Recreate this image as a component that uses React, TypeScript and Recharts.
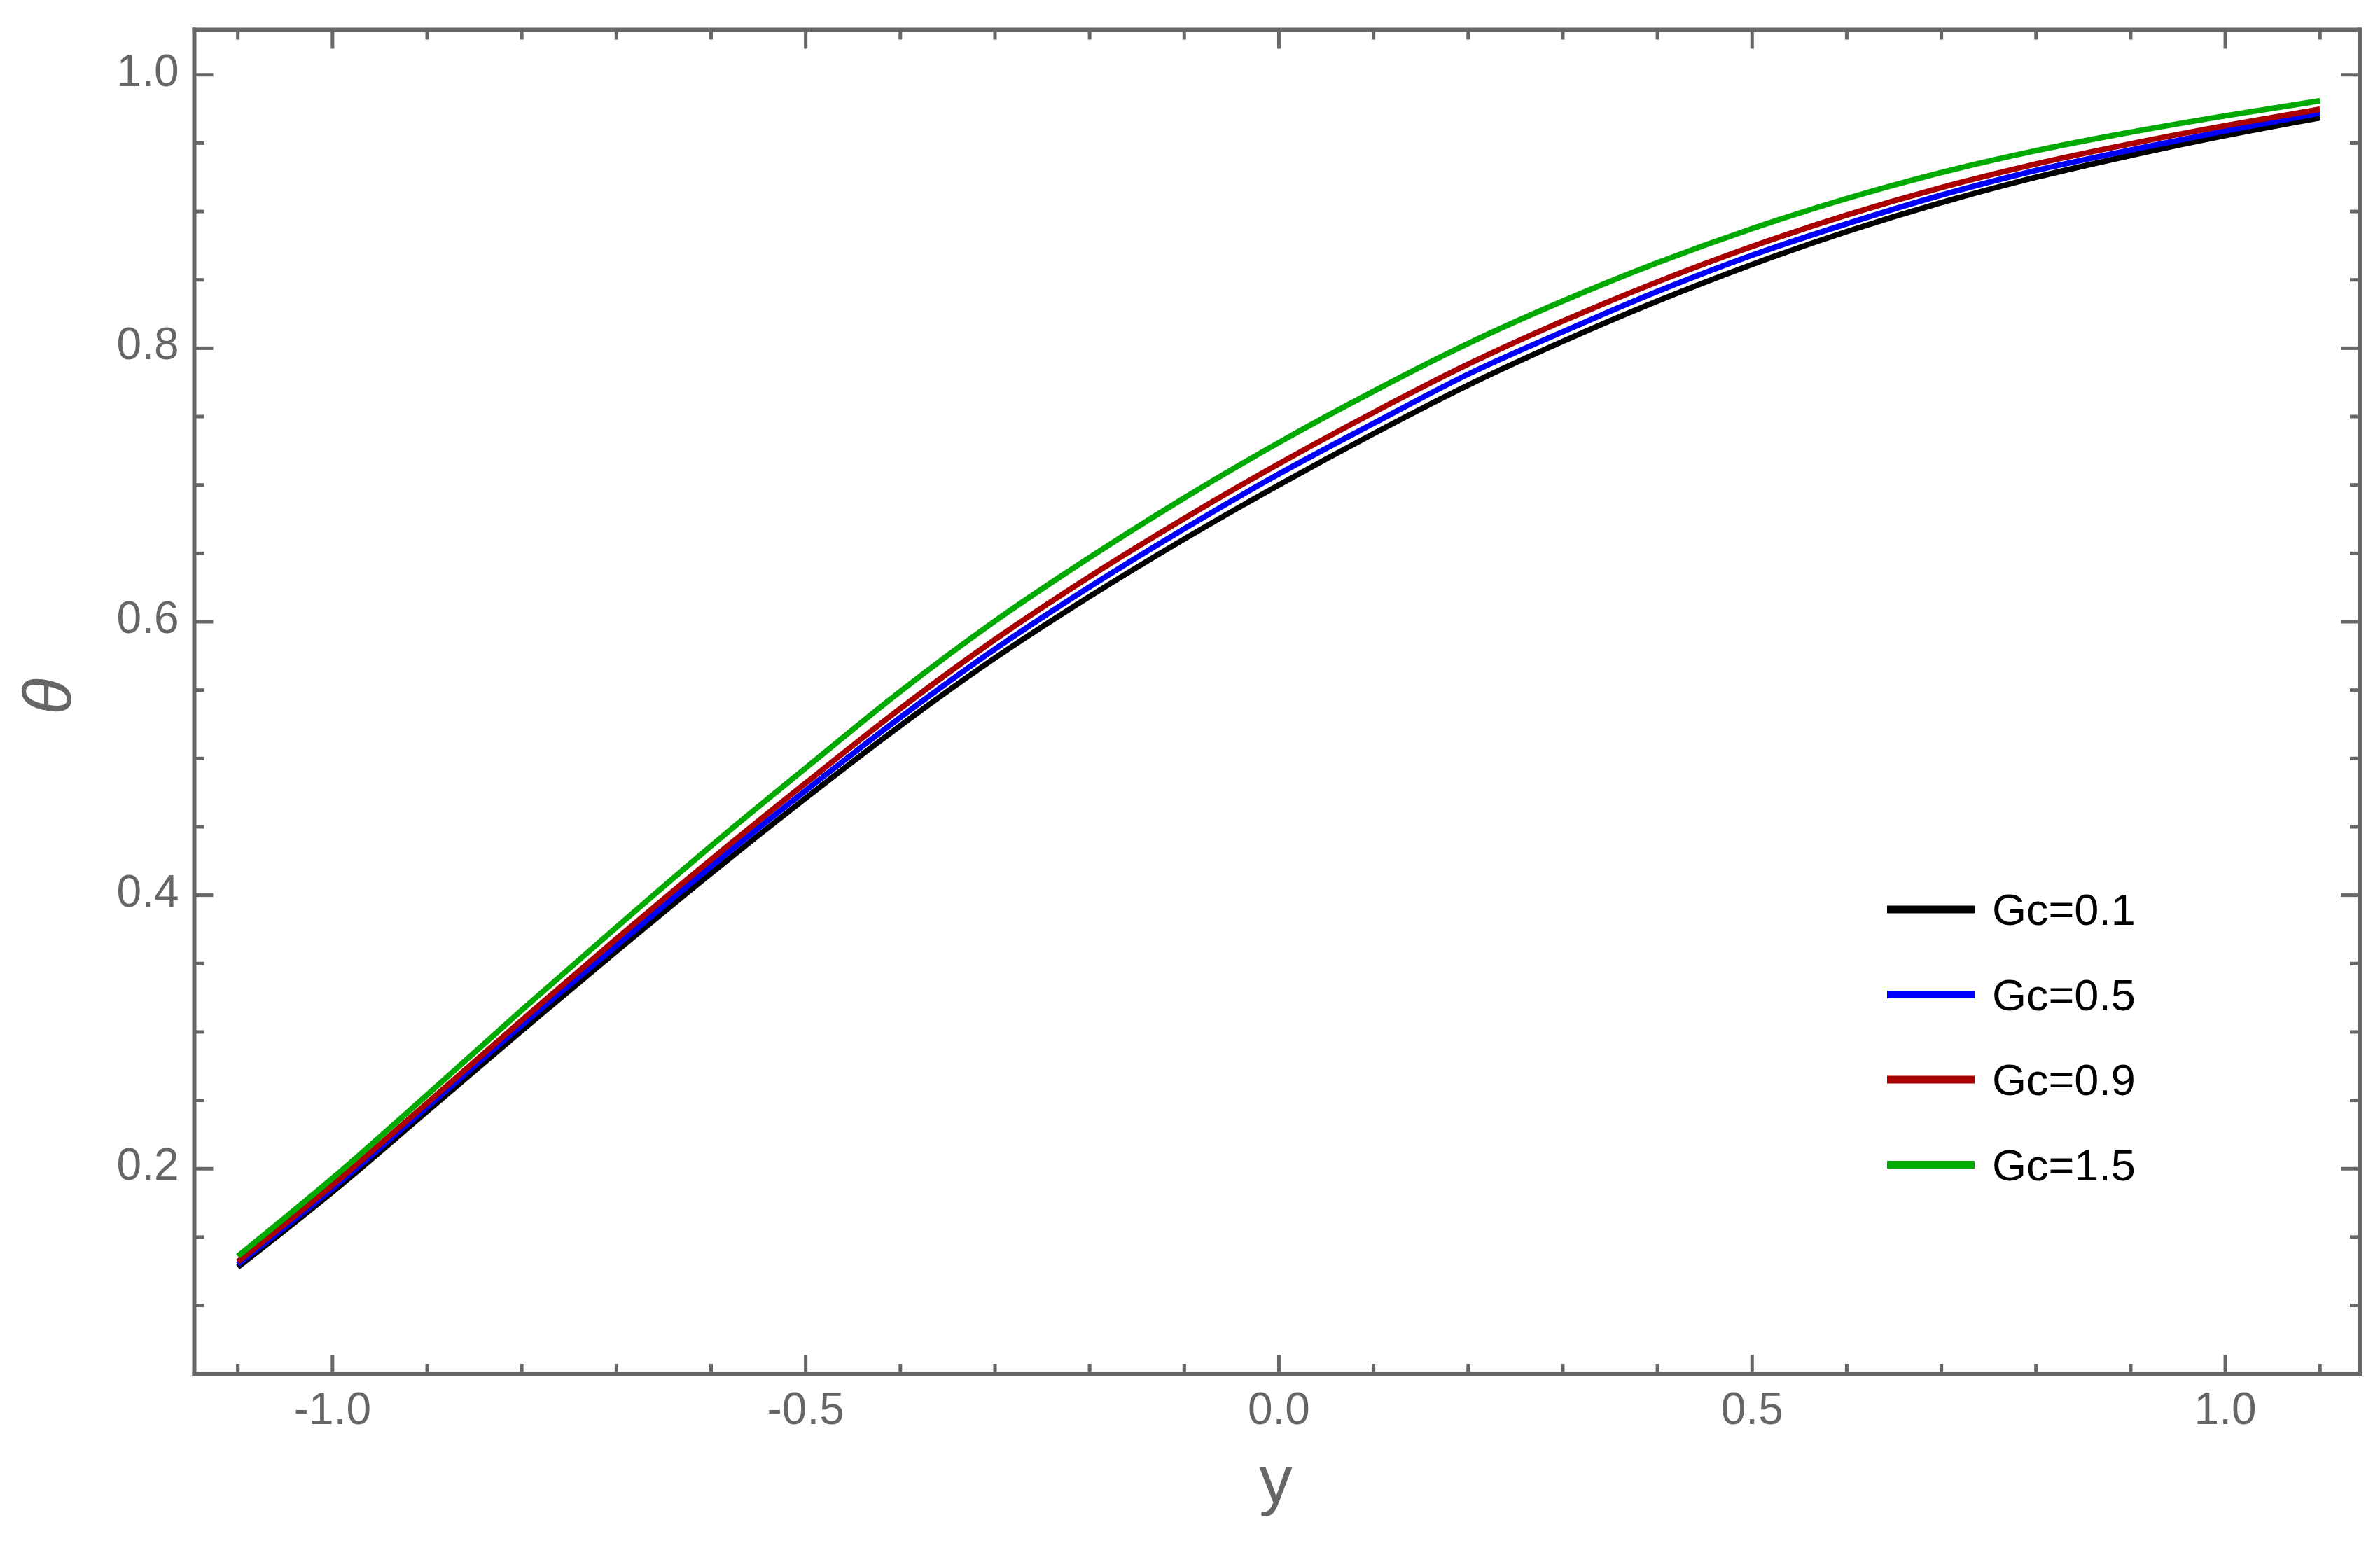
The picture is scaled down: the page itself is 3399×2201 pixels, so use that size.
import { Line, LineChart, XAxis, YAxis } from 'recharts';

const W = 3399;
const H = 2201;
const FONT = '"Liberation Sans", Arial, sans-serif';
const AXIS_GRAY = '#666666';

// y positions across the channel
const yPoints = [
  -1.1, -1.0, -0.9, -0.8, -0.7, -0.6, -0.5, -0.4, -0.3, -0.2, -0.1, 0.0,
  0.1, 0.2, 0.3, 0.4, 0.5, 0.6, 0.7, 0.8, 0.9, 1.0, 1.1,
];

// theta, one list per Gc
const gc01 = [
  0.128, 0.183, 0.242, 0.301, 0.359, 0.416, 0.471, 0.524, 0.5735, 0.6185, 0.6605, 0.700,
  0.7375, 0.773, 0.805, 0.8345, 0.8613, 0.8853, 0.9065, 0.925, 0.941, 0.9555, 0.9685,
];
const gc05 = [
  0.130, 0.1855, 0.245, 0.305, 0.363, 0.421, 0.4765, 0.530, 0.580, 0.6255, 0.668, 0.708,
  0.745, 0.781, 0.812, 0.8415, 0.868, 0.891, 0.912, 0.930, 0.945, 0.959, 0.972,
];
const gc09 = [
  0.132, 0.188, 0.248, 0.3085, 0.368, 0.426, 0.482, 0.5365, 0.587, 0.633, 0.6755, 0.7155,
  0.753, 0.7883, 0.8198, 0.8485, 0.8744, 0.8974, 0.9175, 0.9348, 0.9495, 0.9628, 0.9748,
];
const gc15 = [
  0.136, 0.193, 0.254, 0.316, 0.3765, 0.436, 0.493, 0.549, 0.6005, 0.647, 0.6905, 0.731,
  0.7685, 0.8035, 0.8345, 0.8625, 0.8875, 0.9095, 0.9285, 0.9445, 0.958, 0.970, 0.981,
];

const seriesNames = ['Gc=0.1', 'Gc=0.5', 'Gc=0.9', 'Gc=1.5'];
const seriesKeys = ['g01', 'g05', 'g09', 'g15'];
const seriesColors = ['#000000', '#0000ff', '#aa0000', '#00aa00'];

// frame ticks (Mathematica style: majors labelled, minors inside the frame)
const xTicks = [
  -1.1, -1.0, -0.9, -0.8, -0.7, -0.6, -0.5, -0.4, -0.3, -0.2, -0.1, 0.0,
  0.1, 0.2, 0.3, 0.4, 0.5, 0.6, 0.7, 0.8, 0.9, 1.0, 1.1,
];
const xMajor = [-1.0, -0.5, 0.0, 0.5, 1.0];
const yTicks = [
  0.1, 0.15, 0.2, 0.25, 0.3, 0.35, 0.4, 0.45, 0.5, 0.55, 0.6, 0.65, 0.7, 0.75,
  0.8, 0.85, 0.9, 0.95, 1.0,
];
const yMajor = [0.2, 0.4, 0.6, 0.8, 1.0];

const rows = yPoints.map((y, i) => ({
  y,
  g01: gc01[i],
  g05: gc05[i],
  g09: gc09[i],
  g15: gc15[i],
}));

const isMajor = (v: number, majors: number[]) => majors.some((m) => Math.abs(m - v) < 1e-6);

const MAJOR_LEN = 27;
const MINOR_LEN = 14;
const TICK_W = 5;
const LABEL_SIZE = 64;

function BottomTick(props: any) {
  const { x, y, payload } = props;
  const major = isMajor(payload.value, xMajor);
  const len = major ? MAJOR_LEN : MINOR_LEN;
  return (
    <g>
      <line x1={x} x2={x} y1={y} y2={y - len} stroke={AXIS_GRAY} strokeWidth={TICK_W} />
      {major && (
        <text
          x={x}
          y={y + 50}
          textAnchor="middle"
          dominantBaseline="central"
          fontFamily={FONT}
          fontSize={LABEL_SIZE}
          fill={AXIS_GRAY}
        >
          {payload.value.toFixed(1)}
        </text>
      )}
    </g>
  );
}

function TopTick(props: any) {
  const { x, y, payload } = props;
  const len = isMajor(payload.value, xMajor) ? MAJOR_LEN : MINOR_LEN;
  return <line x1={x} x2={x} y1={y} y2={y + len} stroke={AXIS_GRAY} strokeWidth={TICK_W} />;
}

function LeftTick(props: any) {
  const { x, y, payload } = props;
  const major = isMajor(payload.value, yMajor);
  const len = major ? MAJOR_LEN : MINOR_LEN;
  return (
    <g>
      <line x1={x} x2={x + len} y1={y} y2={y} stroke={AXIS_GRAY} strokeWidth={TICK_W} />
      {major && (
        <text
          x={x - 22}
          y={y - 6}
          textAnchor="end"
          dominantBaseline="central"
          fontFamily={FONT}
          fontSize={LABEL_SIZE}
          fill={AXIS_GRAY}
        >
          {payload.value.toFixed(1)}
        </text>
      )}
    </g>
  );
}

function RightTick(props: any) {
  const { x, y, payload } = props;
  const len = isMajor(payload.value, yMajor) ? MAJOR_LEN : MINOR_LEN;
  return <line x1={x} x2={x - len} y1={y} y2={y} stroke={AXIS_GRAY} strokeWidth={TICK_W} />;
}

const frame = { stroke: AXIS_GRAY, strokeWidth: 6, strokeLinecap: 'square' as const };
const xDomain = [-1.146, 1.142];
const yDomain = [0.0501, 1.0329];

// legend rows, top to bottom
const legendTop = 1299;
const legendStep = 121.5;

export default function App() {
  return (
    <div style={{ position: 'absolute', left: 0, top: 0, width: W, height: H, background: '#fff' }}>
      <LineChart width={W} height={H} data={rows} margin={{ top: 0, right: 0, bottom: 0, left: 0 }}>
        <XAxis
          xAxisId="bottom"
          type="number"
          dataKey="y"
          domain={xDomain}
          ticks={xTicks}
          interval={0}
          allowDataOverflow
          height={239}
          tickSize={0}
          tickMargin={0}
          tickLine={false}
          axisLine={frame}
          tick={BottomTick}
        />
        <XAxis
          xAxisId="top"
          orientation="top"
          type="number"
          dataKey="y"
          domain={xDomain}
          ticks={xTicks}
          interval={0}
          allowDataOverflow
          height={42.5}
          tickSize={0}
          tickMargin={0}
          tickLine={false}
          axisLine={frame}
          tick={TopTick}
        />
        <YAxis
          yAxisId="left"
          type="number"
          domain={yDomain}
          ticks={yTicks}
          interval={0}
          allowDataOverflow
          width={277.5}
          tickSize={0}
          tickMargin={0}
          tickLine={false}
          axisLine={frame}
          tick={LeftTick}
        />
        <YAxis
          yAxisId="right"
          orientation="right"
          type="number"
          domain={yDomain}
          ticks={yTicks}
          interval={0}
          allowDataOverflow
          width={29}
          tickSize={0}
          tickMargin={0}
          tickLine={false}
          axisLine={frame}
          tick={RightTick}
        />
        {seriesKeys.map((k, i) => (
          <Line
            key={k}
            xAxisId="bottom"
            yAxisId="left"
            type="monotone"
            dataKey={k}
            name={seriesNames[i]}
            stroke={seriesColors[i]}
            strokeWidth={8}
            dot={false}
            isAnimationActive={false}
          />
        ))}
      </LineChart>

      <svg
        width={W}
        height={H}
        style={{ position: 'absolute', left: 0, top: 0, pointerEvents: 'none' }}
      >
        <text
          x={1822}
          y={2146}
          textAnchor="middle"
          fontFamily={FONT}
          fontSize={94}
          fill={AXIS_GRAY}
        >
          y
        </text>
        <text
          x={67}
          y={995}
          transform="rotate(-90 67 995)"
          textAnchor="middle"
          dominantBaseline="central"
          fontFamily={FONT}
          fontStyle="italic"
          fontSize={96}
          fill={AXIS_GRAY}
        >
          θ
        </text>
        {seriesNames.map((name, i) => {
          const cy = legendTop + i * legendStep;
          return (
            <g key={name}>
              <line x1={2695} x2={2820} y1={cy} y2={cy} stroke={seriesColors[i]} strokeWidth={11} />
              <text
                x={2845}
                y={cy}
                dominantBaseline="central"
                fontFamily={FONT}
                fontSize={63}
                fill="#000"
              >
                {name}
              </text>
            </g>
          );
        })}
      </svg>
    </div>
  );
}
